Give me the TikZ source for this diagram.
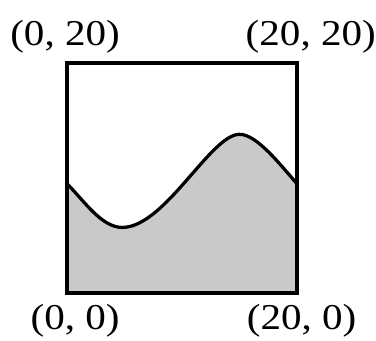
\documentclass[tikz,border=0pt]{standalone}
\usepackage{fontspec}
\setmainfont{Liberation Serif}
\usepackage{xcolor}
\usepackage{tikz}
\usetikzlibrary{positioning,calc}
\definecolor{areagray}{gray}{0.79}
\begin{document}
\begin{tikzpicture}[
x=0.4cm,
y=0.4cm,
every node/.style={font=\fontsize{36}{40}\selectfont},
corner/.style={inner sep=0pt,xscale=1.13},
frame/.style={draw=black,line width=3.2pt},
wave/.style={draw=black,line width=3.2pt},
area/.style={fill=areagray}
]
\useasboundingbox (-5.83,-4.09) rectangle (26.87,25.48);
\coordinate (sw) at (0,0);
\coordinate (se) at (20,0);
\coordinate (ne) at (20,20);
\coordinate (nw) at (0,20);
\coordinate (wl) at (0,9.5);
\coordinate (wmin) at (4.8,5.7);
\coordinate (wmax) at (15,13.8);
\coordinate (wr) at (20,9.5);

\fill[area] (sw) -- (wl) .. controls (1.5,8) and (3,5.7) .. (wmin)
  .. controls (8.5,5.7) and (12.5,13.8) .. (wmax)
  .. controls (16.5,13.8) and (18.5,11.2) .. (wr) -- (se) -- cycle;
\draw[wave] (wl) .. controls (1.5,8) and (3,5.7) .. (wmin)
  .. controls (8.5,5.7) and (12.5,13.8) .. (wmax)
  .. controls (16.5,13.8) and (18.5,11.2) .. (wr);
\draw[frame] (sw) rectangle (ne);

\node[corner] (lnw) at (-0.17,22.25) {(0, 20)};
\node[corner] (lne) at (21.2,22.25) {(20, 20)};
\node[corner] (lsw) at (0.7,-2.45) {(0, 0)};
\node[corner] (lse) at (20.4,-2.45) {(20, 0)};
\end{tikzpicture}
\end{document}
